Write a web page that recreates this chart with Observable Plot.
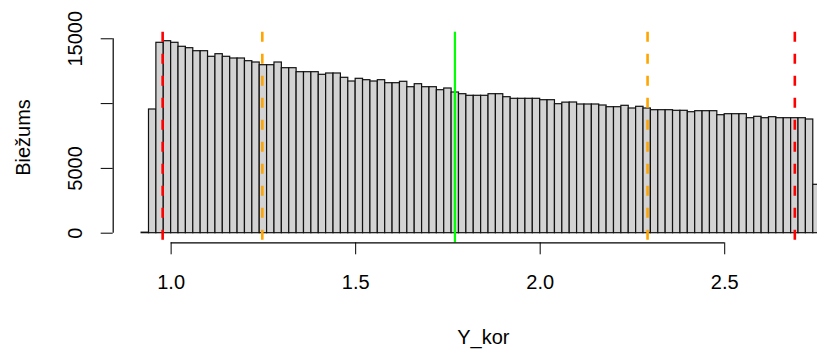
<!DOCTYPE html>
<html><head><meta charset="utf-8">
<script src="https://cdn.jsdelivr.net/npm/d3@7"></script>
<script src="https://cdn.jsdelivr.net/npm/@observablehq/plot@0.6"></script>
<style>html,body{margin:0;padding:0;background:#fff;overflow:hidden;width:817px;height:351px}</style>
</head><body><div id="chart"></div>
<script>
// histogram bins (left edge of first bin and bin width)
const binStart = 0.92;
const binWidth = 0.02;
// counts per bin, from 0.92 up to 2.74 (last bin runs off the right edge)
const counts = [
  40, 9545, 14691, 14815, 14691, 14383, 14275, 14043, 14043, 13611,
  13812, 13611, 13480, 13480, 13272, 13171, 12963, 12963, 13171, 12732,
  12732, 12423, 12423, 12423, 12222, 12323, 12323, 11990, 11705, 11913,
  11806, 11705, 11806, 11574, 11574, 11682, 11265, 11497, 11265, 11265,
  11034, 11165, 10856, 10725, 10602, 10602, 10602, 10725, 10725, 10494,
  10370, 10370, 10370, 10370, 10262, 10262, 9954, 10075, 10085, 9931,
  9931, 9931, 9853, 9722, 9722, 9830, 9622, 9753, 9622, 9491,
  9491, 9491, 9444, 9444, 9336, 9414, 9414, 9414, 9105, 9182,
  9182, 9182, 8873, 8981, 8873, 8951, 8873, 8873, 8873, 8873,
  8773, 3735
];
const xTicks = [1.0, 1.5, 2.0, 2.5];
const yTicks = [0, 5000, 10000, 15000];
const yTickLabels = ["0", "5000", "", "15000"];
const redLines = [0.977, 2.690];
const orangeLines = [1.247, 2.291];
const greenLines = [1.769];
const xLabel = "Y_kor";
const yLabel = "Biežums";
const xDomain = [0.843, 2.849];
const yDomain = [-741, 15509];

const bins = counts.map((c, i) => ({
  x1: +(binStart + i * binWidth).toFixed(2),
  x2: +(binStart + (i + 1) * binWidth).toFixed(2),
  count: c
}));
const yTickData = yTicks.map((v, i) => ({v, label: yTickLabels[i]}));

const chart = Plot.plot({
  width: 817,
  height: 351,
  marginLeft: 112.7,
  marginRight: -36,
  marginTop: 31.7,
  marginBottom: 108.7,
  style: {fontFamily: "'Liberation Sans', Arial, sans-serif", fontSize: "20px", color: "black", background: "white"},
  x: {domain: xDomain},
  y: {domain: yDomain},
  marks: [
    Plot.rectY(bins, {x1: "x1", x2: "x2", y1: 0, y2: "count", fill: "#d3d3d3", stroke: "#111", strokeWidth: 1.2}),
    Plot.ruleX(redLines, {stroke: "#ff0000", strokeWidth: 2.6, strokeDasharray: "10,12"}),
    Plot.ruleX(orangeLines, {stroke: "#ffa500", strokeWidth: 2.6, strokeDasharray: "10,12"}),
    Plot.ruleX(greenLines, {stroke: "#00ff00", strokeWidth: 2.2}),
    Plot.axisX(xTicks, {tickSize: 12, tickPadding: 20, tickFormat: d3.format(".1f"), fontSize: 20, label: null, stroke: "black"}),
    Plot.ruleY([yDomain[0]], {x1: d3.min(xTicks), x2: d3.max(xTicks), stroke: "black", strokeWidth: 1.2}),
    Plot.axisY(yTicks, {tickSize: 12, tickFormat: () => "", label: null, stroke: "black"}),
    Plot.ruleX([xDomain[0]], {y1: d3.min(yTicks), y2: d3.max(yTicks), stroke: "black", strokeWidth: 1.2}),
    Plot.text(yTickData, {y: "v", text: "label", frameAnchor: "left", dx: -31, rotate: -90, textAnchor: "middle", lineAnchor: "bottom", fontSize: 20}),
    Plot.text([yLabel], {frameAnchor: "left", dx: -83.2, rotate: -90, textAnchor: "middle", lineAnchor: "bottom", fontSize: 20}),
    Plot.text([xLabel], {frameAnchor: "bottom", dy: 101, lineAnchor: "bottom", fontSize: 20})
  ]
});
document.getElementById("chart").appendChild(chart);
</script>
</body></html>
